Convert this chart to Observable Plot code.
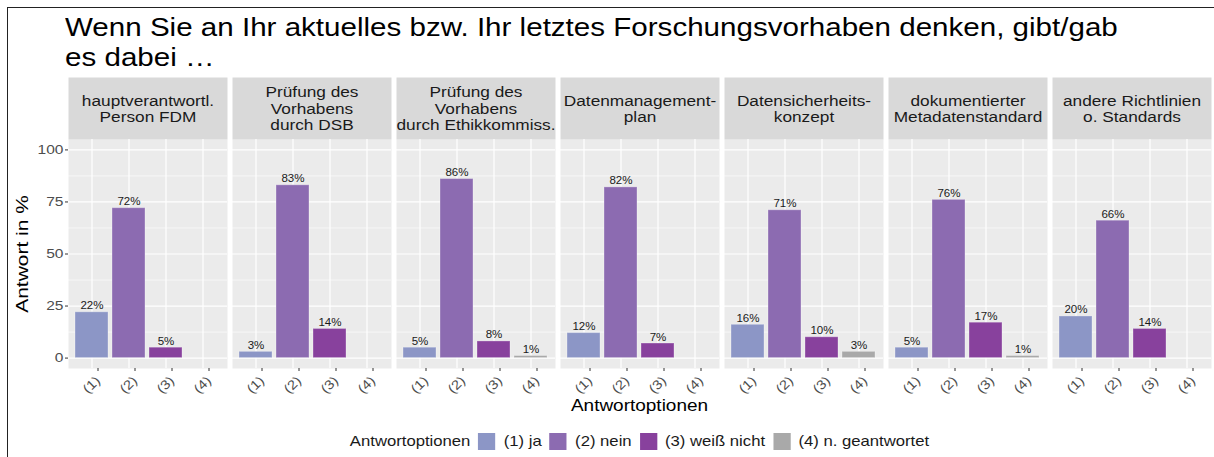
<!DOCTYPE html>
<html>
<head>
<meta charset="utf-8">
<script src="https://cdn.jsdelivr.net/npm/d3@7"></script>
<script src="https://cdn.jsdelivr.net/npm/@observablehq/plot@0.6"></script>
<style>
  body { margin:0; width:1214px; height:457px; position:relative; background:#fff; overflow:hidden;
         font-family:"Liberation Sans", Arial, sans-serif; color:#000; }
  #border { position:absolute; left:7px; top:7px; right:-5px; bottom:-5px; border-left:1px solid #222; border-top:1px solid #222; }
  #title { position:absolute; left:65px; top:12px; font-size:26px; line-height:30px; color:#000; white-space:nowrap;
           transform:scaleX(1.137); transform-origin:0 0; }
  #chart { position:absolute; left:0; top:77px; }
  #xtitle { position:absolute; left:66px; width:1147px; top:395px; text-align:center; font-size:16.5px; line-height:20px;
            transform:scaleX(1.15); transform-origin:center; }
  #legend { position:absolute; left:66px; width:1147px; top:431px; height:20px; display:flex; justify-content:center; align-items:center;
            font-size:14.5px; color:#1a1a1a; transform:scaleX(1.15); transform-origin:center; }
  #legend .sw { width:15px; height:17px; margin-left:7px; margin-right:7px; }
  svg [aria-label="y-axis label"] text, svg [aria-label="y-axis label"] { font-size:16.5px; fill:#000; }
</style>
</head>
<body>
<div id="border"></div>
<div id="title">Wenn Sie an Ihr aktuelles bzw. Ihr letztes Forschungsvorhaben denken, gibt/gab<br>es dabei …</div>
<div id="chart"></div>
<div id="xtitle">Antwortoptionen</div>
<div id="legend"></div>
<script>
const categories = [
  "hauptverantwortl.\nPerson FDM",
  "Prüfung des\nVorhabens\ndurch DSB",
  "Prüfung des\nVorhabens\ndurch Ethikkommiss.",
  "Datenmanagement-\nplan",
  "Datensicherheits-\nkonzept",
  "dokumentierter\nMetadatenstandard",
  "andere Richtlinien\no. Standards"
];
const optionKeys = ["(1)", "(2)", "(3)", "(4)"];
const optionLabels = ["(1) ja", "(2) nein", "(3) weiß nicht", "(4) n. geantwortet"];
const optionColors = ["#8c96c6", "#8c6bb1", "#88419d", "#a9a9a9"];
const ja           = [22, 3, 5, 12, 16, 5, 20];
const nein         = [72, 83, 86, 82, 71, 76, 66];
const weissNicht   = [5, 14, 8, 7, 10, 17, 14];
const nGeantwortet = [null, null, 1, null, 3, 1, null];
const yTicks = [0, 25, 50, 75, 100];
const yMinor = [12.5, 37.5, 62.5, 87.5];
const legendTitle = "Antwortoptionen";
const yTitle = "Antwort in %";

const series = [ja, nein, weissNicht, nGeantwortet];
const rows = categories.flatMap((c, i) => optionKeys.map((k, j) => ({
  category: c, option: k, label: optionLabels[j], value: series[j][i]
}))).filter(d => d.value != null);

const stripH = 62;
const panelH = 229;
const bottomH = 33;

const chart = Plot.plot({
  width: 1214,
  height: stripH + panelH + bottomH,
  marginTop: stripH,
  marginBottom: bottomH,
  marginLeft: 66,
  marginRight: 1,
  style: { fontFamily: "'Liberation Sans', Arial, sans-serif", background: "transparent", overflow: "visible" },
  fx: { domain: categories, paddingInner: 0.033, paddingOuter: 0, axis: null, label: null },
  x: { domain: optionKeys, paddingInner: 0.1, paddingOuter: 0.15, label: null },
  y: { domain: [-5, 105], label: yTitle },
  color: { domain: optionLabels, range: optionColors },
  marks: [
    Plot.frame({ fill: "#ebebeb" }),
    Plot.frame({ fill: "#d9d9d9", insetTop: -stripH, insetBottom: panelH }),
    Plot.gridY(yMinor, { stroke: "#fff", strokeOpacity: 1, strokeWidth: 0.6 }),
    Plot.gridY(yTicks, { stroke: "#fff", strokeOpacity: 1, strokeWidth: 1.2 }),
    Plot.gridX({ stroke: "#fff", strokeOpacity: 1, strokeWidth: 1.2 }),
    Plot.barY(rows, { fx: "category", x: "option", y1: 0, y2: "value", fill: "label", stroke: "#fff", strokeOpacity: 0.3, strokeWidth: 1 }),
    Plot.text(rows, { fx: "category", x: "option", y: "value", text: d => d.value + "%", dy: -3, lineAnchor: "bottom", fontSize: 11, fill: "#1a1a1a" }),
    Plot.text(categories, { fx: d => d, text: d => d, frameAnchor: "top", lineAnchor: "middle", dy: -stripH / 2, lineHeight: 1.11, fontSize: 15, fill: "#1a1a1a" }),
    Plot.axisY(yTicks, { anchor: "left", tickSize: 3, tickPadding: 2, fontSize: 13.5, fill: "#4d4d4d", stroke: "#333", label: yTitle, labelAnchor: "center", labelArrow: "none", labelOffset: 52 }),
    Plot.axisX({ anchor: "bottom", tickSize: 3, tickPadding: 7, tickRotate: -45, fontSize: 13, fill: "#4d4d4d", stroke: "#333", label: null, dx: 6 })
  ]
});
document.getElementById("chart").appendChild(chart);

// widen glyphs along the reading direction, as in the reference rendering
chart.querySelectorAll("text").forEach(t => {
  let s = 1.15;
  if (t.closest('[aria-label="y-axis label"]')) s = 1.27;
  else if (t.closest('[aria-label="text"]') && /%$/.test(t.textContent)) s = 1.05;
  const x = +t.getAttribute("x") || 0, y = +t.getAttribute("y") || 0;
  const tr = t.getAttribute("transform") || "";
  t.setAttribute("transform", `${tr} translate(${x},${y}) scale(${s},1) translate(${-x},${-y})`);
});

const legend = document.getElementById("legend");
const t = document.createElement("span");
t.textContent = legendTitle;
legend.appendChild(t);
const colorScale = chart.scale("color");
colorScale.domain.forEach((lab, i) => {
  const sw = document.createElement("span");
  sw.className = "sw";
  sw.style.background = colorScale.range[i];
  legend.appendChild(sw);
  const l = document.createElement("span");
  l.textContent = lab;
  legend.appendChild(l);
});
</script>
</body>
</html>
